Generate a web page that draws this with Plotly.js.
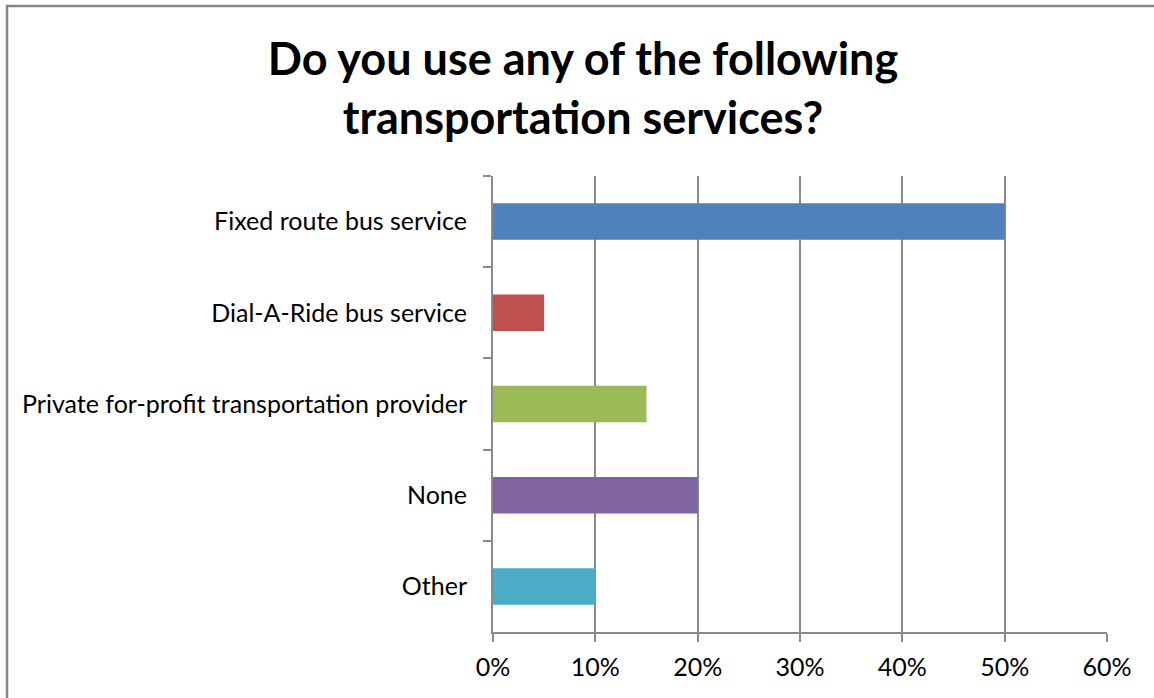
<!DOCTYPE html>
<html>
<head>
<meta charset="utf-8">
<script src="https://cdn.plot.ly/plotly-3.0.1.min.js"></script>
<style>html,body{margin:0;padding:0;background:#fff;}#chart{width:1154px;height:698px;}</style>
</head>
<body>
<div id="chart"></div>
<script>
const categories = ["Fixed route bus service", "Dial-A-Ride bus service", "Private for-profit transportation provider", "None", "Other"];
const shares = [0.50, 0.05, 0.15, 0.20, 0.10];
const barColors = ["#4F81BD", "#C0504D", "#9BBB59", "#8064A2", "#4BACC6"];
const titleText = "Do you use any of the following<br>transportation services?";

const W = 1154, H = 698;
const margin = {l: 493, r: 47, t: 176, b: 66};
const pw = W - margin.l - margin.r, ph = H - margin.t - margin.b;
const font = "Lato, 'Open Sans', sans-serif";
const lineCol = "#8a8a8a";

const trace = {
  type: "bar",
  orientation: "h",
  x: shares,
  y: categories,
  marker: {color: barColors},
  width: 0.4,
  hoverinfo: "x+y"
};

const layout = {
  width: W, height: H,
  margin: margin,
  paper_bgcolor: "#fff",
  plot_bgcolor: "#fff",
  showlegend: false,
  font: {family: font, color: "#000"},
  title: {
    text: titleText,
    font: {family: font, size: 45, color: "#000", weight: 700},
    x: 583 / W, xref: "container", xanchor: "center",
    y: 1 - 75 / H, yref: "container", yanchor: "middle"
  },
  xaxis: {
    range: [0, 0.6],
    dtick: 0.1,
    tickformat: ".0%",
    showgrid: true,
    gridcolor: lineCol,
    gridwidth: 2,
    showline: true,
    linecolor: lineCol,
    linewidth: 2,
    ticks: "outside",
    ticklen: 8,
    tickcolor: lineCol,
    tickwidth: 2,
    tickfont: {family: font, size: 25, color: "#000"},
    ticklabelstandoff: 4,
    zeroline: false,
    fixedrange: true
  },
  yaxis: {
    type: "category",
    autorange: "reversed",
    showline: true,
    linecolor: lineCol,
    linewidth: 2,
    ticks: "outside",
    tickson: "boundaries",
    ticklen: 8,
    tickcolor: lineCol,
    tickwidth: 2,
    showgrid: false,
    tickfont: {family: font, size: 25, color: "#000"},
    ticklabelstandoff: 19,
    fixedrange: true
  },
  shapes: [{
    type: "rect", xref: "paper", yref: "paper",
    x0: (7 - margin.l) / pw, x1: (W + 5 - margin.l) / pw,
    y0: -(H + 5 - margin.t - ph) / ph - 0.01, y1: 1 + (margin.t - 6) / ph,
    line: {color: "#868686", width: 2.5},
    fillcolor: "rgba(0,0,0,0)",
    layer: "below"
  }]
};

Plotly.newPlot("chart", [trace], layout, {displayModeBar: false, staticPlot: true});
</script>
</body>
</html>
